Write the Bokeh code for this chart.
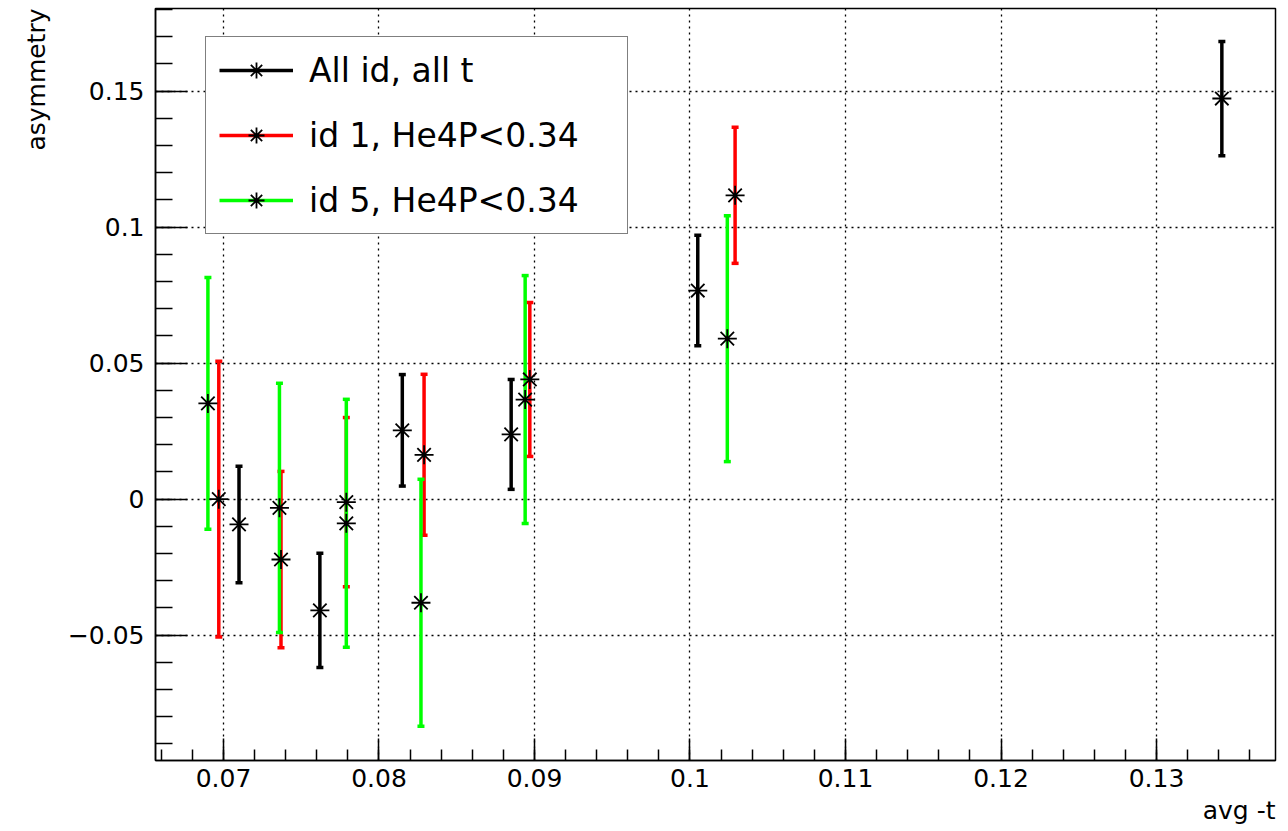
import numpy as np
from bokeh.plotting import figure
from bokeh.models import (ColumnDataSource, FixedTicker, Range1d, Legend,
                          LegendItem, Title)
from bokeh.embed import file_html
from bokeh.resources import INLINE

# Mean -t of each bin, measured asymmetry and its statistical error
all_t = [0.0710, 0.0762, 0.0815, 0.0885, 0.1005, 0.1342]
all_asym = [-0.0093, -0.0409, 0.0253, 0.0238, 0.0767, 0.1473]
all_err = [0.0214, 0.0210, 0.0205, 0.0202, 0.0203, 0.0210]

id1_t = [0.0697, 0.0737, 0.0779, 0.0829, 0.0897, 0.1029]
id1_asym = [0.0000, -0.0222, -0.0011, 0.0163, 0.0440, 0.1117]
id1_err = [0.0507, 0.0324, 0.0311, 0.0296, 0.0283, 0.0250]

id5_t = [0.0690, 0.0736, 0.0779, 0.0827, 0.0894, 0.1024]
id5_asym = [0.0352, -0.0032, -0.0089, -0.0381, 0.0366, 0.0590]
id5_err = [0.0463, 0.0458, 0.0456, 0.0454, 0.0456, 0.0452]

series_names = ["All id, all t", "id 1, He4P<0.34", "id 5, He4P<0.34"]

x_ticks = [0.07, 0.08, 0.09, 0.10, 0.11, 0.12, 0.13]
x_tick_labels = ["0.07", "0.08", "0.09", "0.1", "0.11", "0.12", "0.13"]
y_ticks = [-0.05, 0.0, 0.05, 0.10, 0.15]
y_tick_labels = ["\u22120.05", "0", "0.05", "0.1", "0.15"]

FONT = "DejaVu Sans"

p = figure(width=1288, height=831, output_backend="svg", toolbar_location=None,
           x_range=Range1d(0.06563, 0.13765), y_range=Range1d(-0.0961, 0.1804),
           min_border_left=155, min_border_right=13, min_border_top=8,
           min_border_bottom=71)
p.background_fill_color = "white"
p.border_fill_color = "white"
p.outline_line_color = "black"
p.outline_line_width = 1.5

# ROOT-like axes: ticks pointing into the frame, dotted grid at major ticks
p.xaxis.ticker = FixedTicker(ticks=x_ticks,
                             minor_ticks=list(np.round(np.arange(0.066, 0.1375, 0.002), 4)))
p.yaxis.ticker = FixedTicker(ticks=y_ticks,
                             minor_ticks=list(np.round(np.arange(-0.09, 0.181, 0.01), 3)))
p.xaxis.major_label_overrides = dict(zip(x_ticks, x_tick_labels))
p.yaxis.major_label_overrides = dict(zip(y_ticks, y_tick_labels))

for ax in (p.xaxis[0], p.yaxis[0]):
    ax.axis_line_color = "black"
    ax.axis_line_width = 1.5
    ax.major_tick_line_color = "black"
    ax.minor_tick_line_color = "black"
    ax.major_tick_line_width = 1.5
    ax.minor_tick_line_width = 1.5
    ax.major_tick_out = 0
    ax.minor_tick_out = 0
    ax.major_label_text_font = FONT
    ax.major_label_text_font_size = "25px"
    ax.major_label_text_color = "black"

p.xaxis.major_tick_in = 22
p.xaxis.minor_tick_in = 11
p.xaxis.major_label_standoff = 8
p.yaxis.major_tick_in = 32
p.yaxis.minor_tick_in = 17
p.yaxis.major_label_standoff = 11

for g in (p.xgrid[0], p.ygrid[0]):
    g.grid_line_color = "black"
    g.grid_line_width = 1.3
    g.grid_line_dash = "2 4"
p.xgrid.ticker = p.xaxis.ticker
p.ygrid.ticker = p.yaxis.ticker

# Axis titles sit at the far end of each axis, as ROOT draws them
p.add_layout(Title(text="asymmetry", align="right", text_font=FONT,
                   text_font_size="25px", text_font_style="normal",
                   text_color="black", standoff=27, offset=0), "left")
p.add_layout(Title(text="avg -t", align="right", text_font=FONT,
                   text_font_size="25px", text_font_style="normal",
                   text_color="black", standoff=9, offset=0), "below")

colors = ["black", "#ff0000", "#00ff00"]
data = [(all_t, all_asym, all_err), (id1_t, id1_asym, id1_err),
        (id5_t, id5_asym, id5_err)]

bar_renderers = []
sources = []
for (t, a, e), c in zip(data, colors):
    t = np.array(t)
    a = np.array(a)
    e = np.array(e)
    src = ColumnDataSource(dict(x=t, y=a, lo=a - e, hi=a + e))
    sources.append(src)
    seg = p.segment(x0="x", y0="lo", x1="x", y1="hi", source=src,
                    line_color=c, line_width=3.5)
    p.rect(x="x", y="hi", width=7, height=3.5, width_units="screen",
           height_units="screen", source=src, fill_color=c, line_color=None)
    p.rect(x="x", y="lo", width=7, height=3.5, width_units="screen",
           height_units="screen", source=src, fill_color=c, line_color=None)
    bar_renderers.append(seg)

star_renderers = []
for src in sources:
    st = p.scatter(x="x", y="y", source=src, marker="asterisk", size=19,
                   line_color="black", line_width=1.8)
    star_renderers.append(st)

items = [LegendItem(label=n, renderers=[b, s])
         for n, b, s in zip(series_names, bar_renderers, star_renderers)]
legend = Legend(items=items, location=(50, 526), margin=0, padding=13,
                spacing=25, glyph_width=74, glyph_height=40, label_height=40,
                label_width=305, label_standoff=16,
                label_text_font=FONT, label_text_font_size="33px",
                label_text_color="black",
                border_line_color="black", border_line_width=1.5,
                background_fill_color="white", background_fill_alpha=1.0)
p.add_layout(legend, "center")

open("out.html", "w").write(file_html(p, INLINE))
